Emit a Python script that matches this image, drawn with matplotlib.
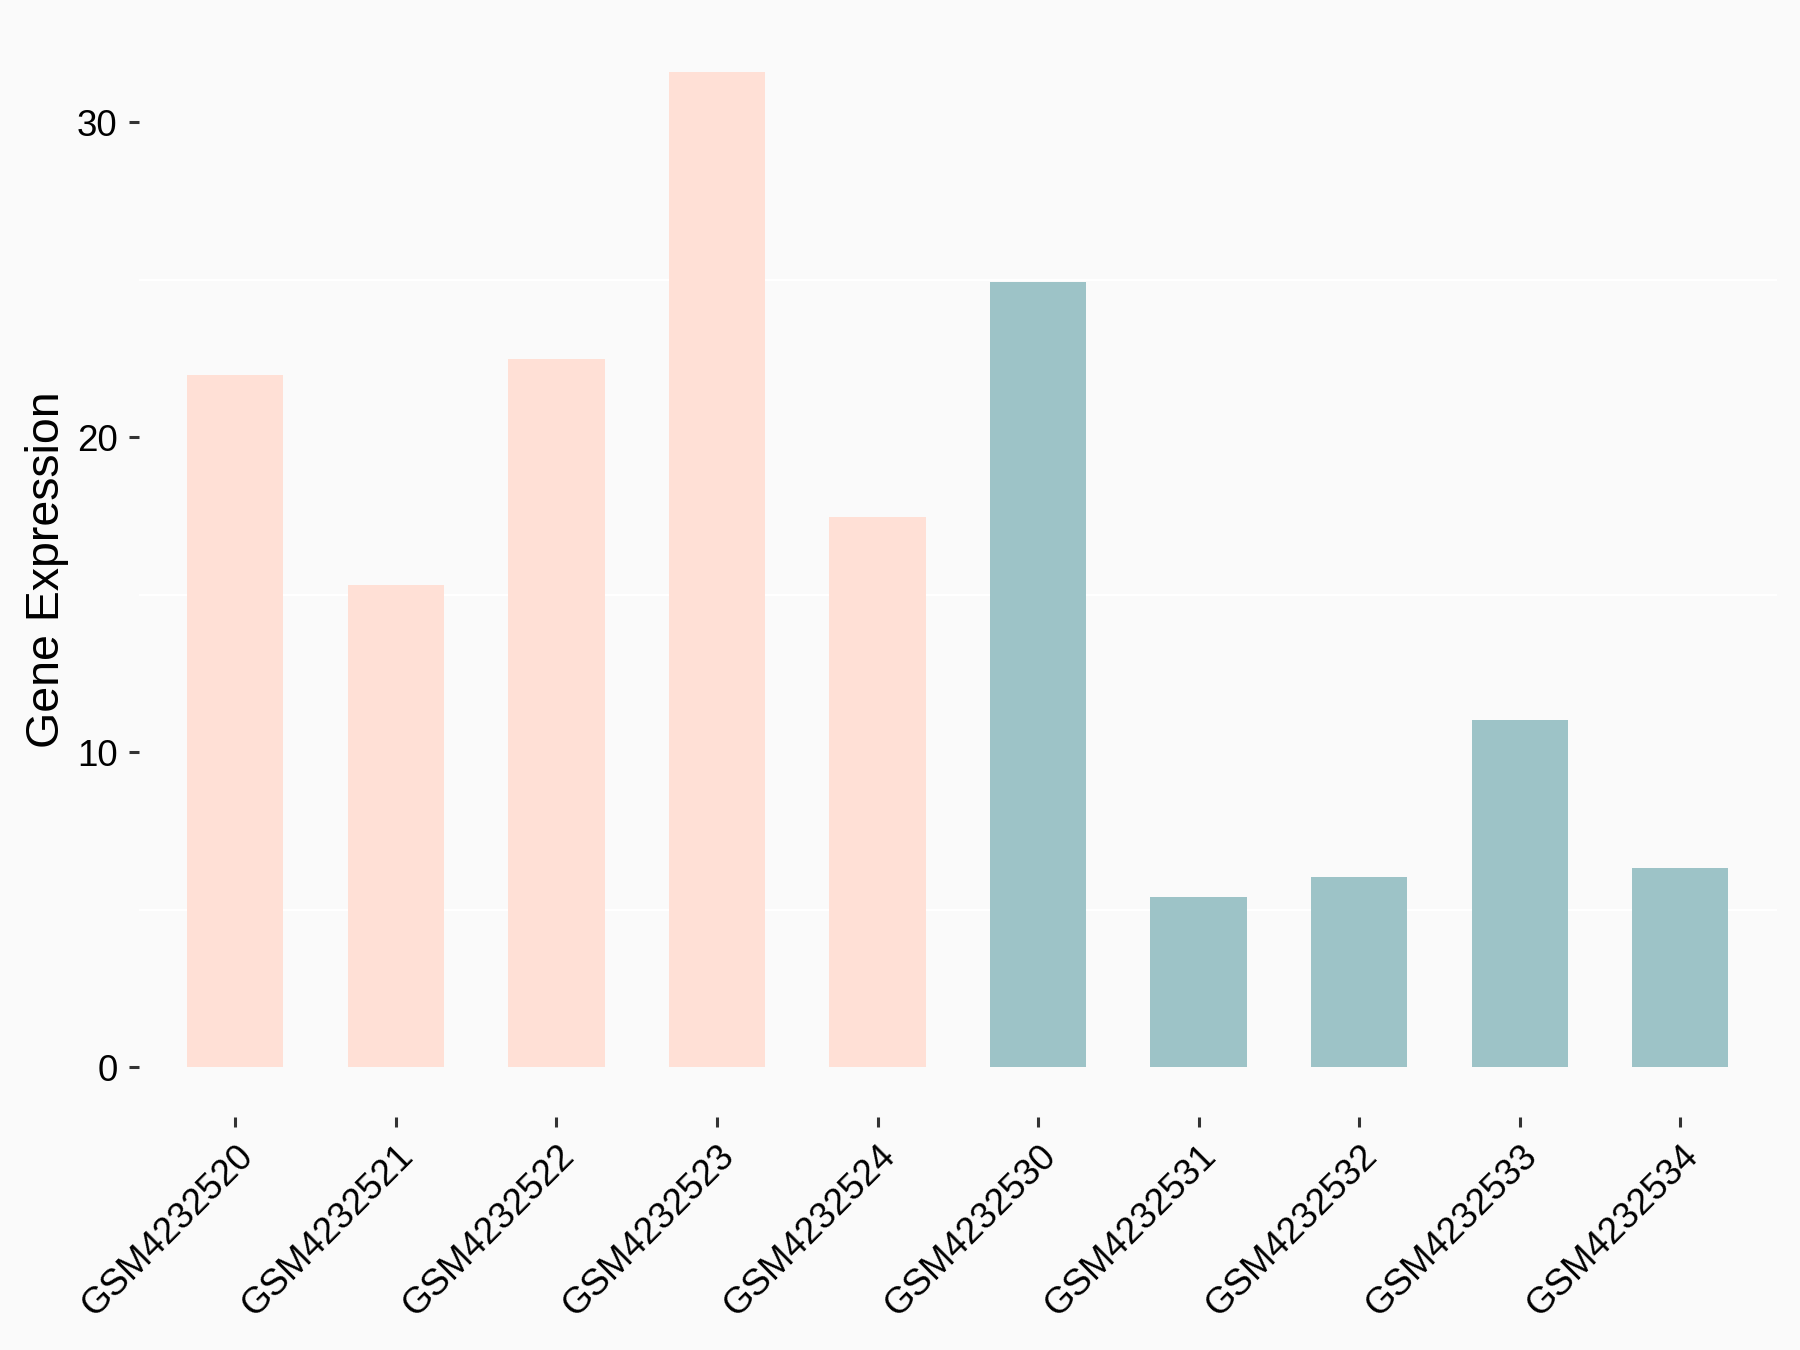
import numpy as np
import matplotlib
matplotlib.use("Agg")
import matplotlib.pyplot as plt

# sample ids and expression values
samples = ["GSM4232520", "GSM4232521", "GSM4232522", "GSM4232523", "GSM4232524",
           "GSM4232530", "GSM4232531", "GSM4232532", "GSM4232533", "GSM4232534"]
expression = [21.98, 15.31, 22.49, 31.61, 17.46, 24.94, 5.40, 6.05, 11.01, 6.34]
groups = ["A", "A", "A", "A", "A", "B", "B", "B", "B", "B"]
group_colors = {"A": "#FFE0D6", "B": "#9DC3C7"}
y_ticks = [0, 10, 20, 30]
minor_ticks = [5, 15, 25]

plt.rcParams["font.family"] = ["Liberation Sans", "DejaVu Sans"]

fig = plt.figure(figsize=(18, 13.5), dpi=100, facecolor="#FAFAFA")
ax = fig.add_axes([0.0772, 0.1726, 0.9098, 0.8111])
ax.set_facecolor("#FAFAFA")

x = np.arange(len(samples))
colors = [group_colors[g] for g in groups]
ax.bar(x, expression, width=0.6, color=colors, zorder=2)

# only minor grid lines are visible in the original
ax.set_yticks(minor_ticks, minor=True)
ax.yaxis.grid(True, which="minor", color="white", linewidth=1.5, zorder=0)
ax.yaxis.grid(False, which="major")
ax.set_axisbelow(True)

top = max(expression)
ax.set_ylim(-0.05 * top, top * 1.05)
ax.set_xlim(-0.6, len(samples) - 0.4)

ax.set_yticks(y_ticks)
ax.set_yticklabels([str(t) for t in y_ticks], fontsize=26.5)
ax.set_xticks(x)
ax.set_xticklabels(samples, fontsize=26.5, rotation=45, ha="right", va="top",
                   rotation_mode="anchor")
ax.tick_params(axis="both", which="major", length=7.5, width=2.2, color="#333333",
               labelcolor="black", pad=8)
ax.tick_params(axis="y", which="minor", length=0)

for s in ax.spines.values():
    s.set_visible(False)

ax.set_ylabel("Gene Expression", fontsize=33.5, labelpad=5.5)

fig.savefig("out.png", dpi=100, facecolor=fig.get_facecolor())
